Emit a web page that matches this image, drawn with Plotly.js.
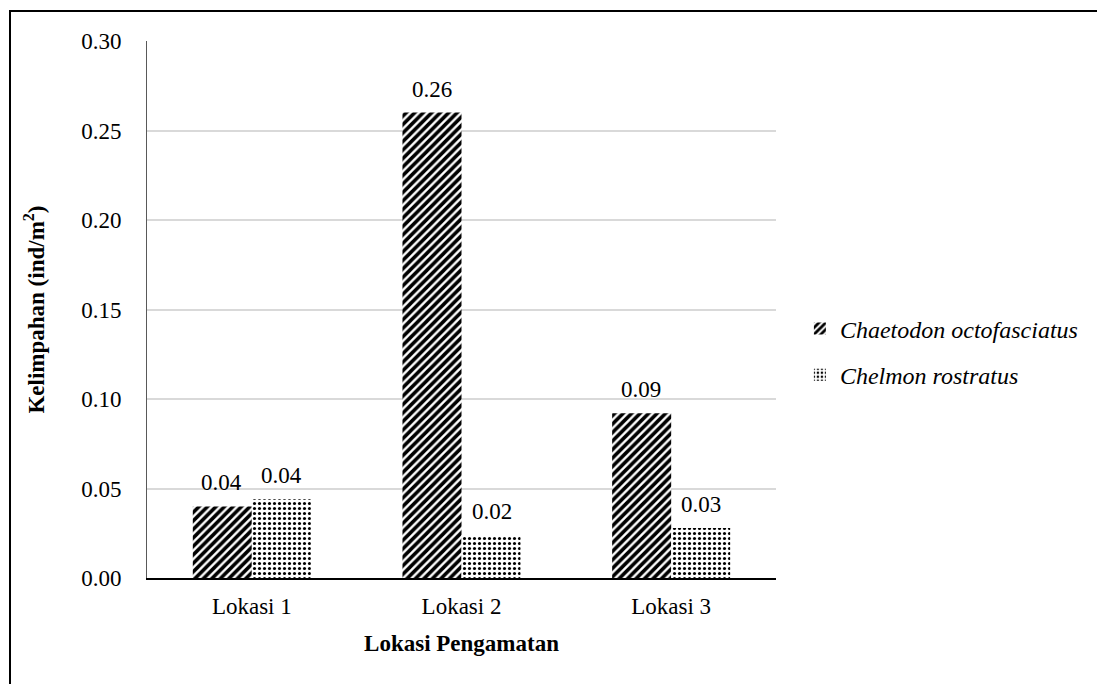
<!DOCTYPE html>
<html>
<head>
<meta charset="utf-8">
<script src="https://cdn.plot.ly/plotly-3.0.1.min.js"></script>
<style>
  html, body { margin:0; padding:0; background:#fff; overflow:hidden; }
  #frame { position:absolute; left:9px; top:10px; width:1300px; height:900px; border:2px solid #000; box-sizing:border-box; }
  #chart { position:absolute; left:0; top:0; width:1097px; height:684px; }
</style>
</head>
<body>
<div id="frame"></div>
<div id="chart"></div>
<script>
const categories = ["Lokasi 1", "Lokasi 2", "Lokasi 3"];
const chaetodon = [0.040, 0.260, 0.092];
const chelmon = [0.044, 0.024, 0.028];
const seriesNames = ["Chaetodon octofasciatus", "Chelmon rostratus"];
const yTicks = [0, 0.05, 0.10, 0.15, 0.20, 0.25, 0.30];

const FONT = "Liberation Serif, DejaVu Serif, serif";
const FS = 23;

const traces = [
  {
    type: "bar", x: categories, y: chaetodon, name: seriesNames[0],
    legendgroup: "a",
    marker: { color: "#ffffff", line: { width: 0 },
      pattern: { shape: "/", fgcolor: "#000000", bgcolor: "#ffffff", size: 6, solidity: 0.6 } },
    cliponaxis: false
  },
  {
    type: "bar", x: categories, y: chelmon, name: seriesNames[1],
    legendgroup: "b",
    marker: { color: "#ffffff", line: { width: 0 },
      pattern: { shape: ".", fgcolor: "#000000", bgcolor: "#ffffff", size: 5, solidity: 0.3 } },
    cliponaxis: false
  }
];

// data labels built from the data arrays
const BAR_OFFSET = 30; // half bar width in px
const annotations = [];
[chaetodon, chelmon].forEach((vals, si) => {
  vals.forEach((v, i) => {
    annotations.push({
      x: categories[i], y: v, xref: "x", yref: "y",
      text: v.toFixed(2), showarrow: false,
      xanchor: "center", yanchor: "bottom",
      xshift: si === 0 ? -BAR_OFFSET : BAR_OFFSET, yshift: 9,
      font: { family: FONT, size: FS, color: "#000" }
    });
  });
});

const layout = {
  width: 1097, height: 684,
  paper_bgcolor: "rgba(0,0,0,0)", plot_bgcolor: "rgba(0,0,0,0)",
  margin: { l: 147, r: 321, t: 41, b: 106 },
  font: { family: FONT, size: FS, color: "#000" },
  barmode: "group", bargap: 0.437, bargroupgap: 0,
  showlegend: true,
  annotations: annotations,
  legend: {
    x: 1.038, xanchor: "left", y: 0.421, yanchor: "middle",
    traceorder: "grouped", tracegroupgap: 12,
    font: { family: FONT, size: 24, style: "italic", color: "#000" },
    bgcolor: "rgba(0,0,0,0)"
  },
  xaxis: {
    type: "category", showgrid: false, zeroline: false,
    showline: true, linecolor: "#000", linewidth: 2,
    ticks: "", ticklabelstandoff: 6, tickfont: { family: FONT, size: FS },
    title: { text: "<b>Lokasi Pengamatan</b>", font: { family: FONT, size: FS }, standoff: 17 }
  },
  yaxis: {
    range: [0, 0.30], tickvals: yTicks, tickformat: ".2f",
    showgrid: true, gridcolor: "#d9d9d9", gridwidth: 2,
    zeroline: false, showline: true, linecolor: "#595959", linewidth: 1,
    ticks: "", ticklabelstandoff: 20, tickfont: { family: FONT, size: FS },
    title: { text: "<b>Kelimpahan (ind/m<sup>2</sup>)</b>", font: { family: FONT, size: FS }, standoff: 30 }
  }
};

Plotly.newPlot("chart", traces, layout, { displayModeBar: false, staticPlot: true });
</script>
</body>
</html>
